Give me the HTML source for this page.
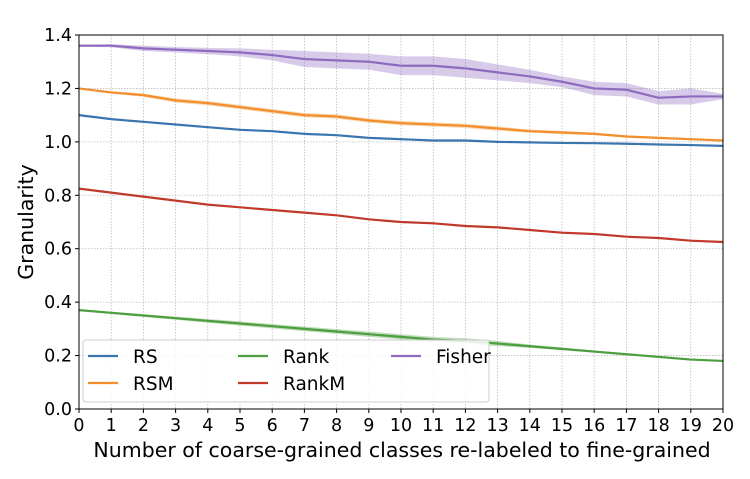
<!DOCTYPE html>
<html><head><meta charset="utf-8"><style>
body{margin:0;background:#fff;}
svg{display:block;font-family:"DejaVu Sans","Liberation Sans",sans-serif;}
</style></head><body>
<svg id="chart" width="750" height="479"></svg>
<script>
const categories=[0,1,2,3,4,5,6,7,8,9,10,11,12,13,14,15,16,17,18,19,20];
const fisher=[1.36,1.36,1.35,1.345,1.34,1.335,1.325,1.31,1.305,1.30,1.285,1.285,1.275,1.26,1.245,1.225,1.20,1.195,1.165,1.17,1.17];
const fisherErr=[0.004,0.006,0.01,0.01,0.012,0.015,0.02,0.03,0.03,0.03,0.035,0.035,0.035,0.03,0.025,0.02,0.025,0.025,0.025,0.03,0.01];
const rsm=[1.20,1.185,1.175,1.155,1.145,1.13,1.115,1.10,1.095,1.08,1.07,1.065,1.06,1.05,1.04,1.035,1.03,1.02,1.015,1.01,1.005];
const rsmErr=[0.003,0.005,0.006,0.008,0.008,0.008,0.008,0.008,0.008,0.008,0.008,0.008,0.008,0.008,0.006,0.006,0.005,0.004,0.004,0.004,0.003];
const rs=[1.10,1.085,1.075,1.065,1.055,1.045,1.04,1.03,1.025,1.015,1.01,1.005,1.005,1.0,0.998,0.996,0.995,0.993,0.99,0.988,0.985];
const rsErr=[0.002,0.003,0.003,0.003,0.003,0.003,0.003,0.003,0.003,0.003,0.003,0.003,0.003,0.003,0.003,0.003,0.003,0.003,0.003,0.003,0.003];
const rankM=[0.825,0.81,0.795,0.78,0.765,0.755,0.745,0.735,0.725,0.71,0.70,0.695,0.685,0.68,0.67,0.66,0.655,0.645,0.64,0.63,0.625];
const rankMErr=[0.003,0.003,0.003,0.003,0.003,0.003,0.003,0.003,0.003,0.003,0.003,0.003,0.003,0.003,0.003,0.003,0.003,0.003,0.003,0.003,0.003];
const rank=[0.37,0.36,0.35,0.34,0.33,0.32,0.31,0.30,0.29,0.28,0.27,0.26,0.255,0.245,0.235,0.225,0.215,0.205,0.195,0.185,0.18];
const rankErr=[0.003,0.004,0.005,0.006,0.007,0.008,0.008,0.009,0.009,0.01,0.01,0.01,0.01,0.01,0.006,0.005,0.004,0.003,0.003,0.003,0.003];
const yTicks=[0.0,0.2,0.4,0.6,0.8,1.0,1.2,1.4];
const seriesNames=["RS","RSM","Rank","RankM","Fisher"];

const NS="http://www.w3.org/2000/svg";
const svg=document.getElementById('chart');
const L=79,R=723,T=35,B=409;
const xS=v=>L+(v-0)/(20-0)*(R-L);
const yS=v=>B-(v/1.4)*(B-T);
function el(tag,attrs,parent){const e=document.createElementNS(NS,tag);for(const k in attrs)e.setAttribute(k,attrs[k]);(parent||svg).appendChild(e);return e;}

categories.forEach(c=>{
  const g=el('line',{x1:xS(c),x2:xS(c),y1:T,y2:B,stroke:'#bbb','stroke-width':0.8,'stroke-dasharray':'1.5,1.5'});
  
  
});
yTicks.forEach(t=>{
  const g=el('line',{x1:L,x2:R,y1:yS(t),y2:yS(t),stroke:'#bbb','stroke-width':0.8,'stroke-dasharray':'1.5,1.5'});
  
  
});

function series(vals,err,color,name){
  let up='',lo='';
  vals.forEach((v,i)=>{up+=(i?'L':'M')+xS(categories[i])+','+yS(v+err[i]);});
  for(let i=vals.length-1;i>=0;i--)lo+='L'+xS(categories[i])+','+yS(vals[i]-err[i]);
  const band=el('path',{d:up+lo+'Z',fill:color,'fill-opacity':0.35,stroke:'none'});
  
  
  const pts=vals.map((v,i)=>xS(categories[i])+','+yS(v)).join(' ');
  const ln=el('polyline',{points:pts,fill:'none',stroke:color,'stroke-width':2.2});
  
  
}
series(rs,rsErr,'#3a75b0','rs');
series(rsm,rsmErr,'#f28e2b','rsm');
series(rank,rankErr,'#4c9e3f','rank');
series(rankM,rankMErr,'#c0392b','rankm');
series(fisher,fisherErr,'#8e6bbf','fisher');

const fr=el('rect',{x:L,y:T,width:R-L,height:B-T,fill:'none',stroke:'#000','stroke-width':1});



categories.forEach(c=>{
  el('line',{x1:xS(c),x2:xS(c),y1:B,y2:B+4,stroke:'#000'});
  const t=el('text',{x:xS(c),y:B+22,'text-anchor':'middle','font-size':17.5,fill:'#000'});
  t.textContent=c;
  
  
});
yTicks.forEach(v=>{
  el('line',{x1:L-4,x2:L,y1:yS(v),y2:yS(v),stroke:'#000'});
  const t=el('text',{x:L-7,y:yS(v)+6,'text-anchor':'end','font-size':17.5,fill:'#000'});
  t.textContent=v.toFixed(1);
  
  
});
const xt=el('text',{x:(L+R)/2+1,y:457,'text-anchor':'middle','font-size':20.5,fill:'#000'});
xt.textContent='Number of coarse-grained classes re-labeled to fine-grained';


const yt=el('text',{x:0,y:0,'text-anchor':'middle','font-size':20.5,fill:'#000',transform:'translate(33,222) rotate(-90)'});
yt.textContent='Granularity';



const lg=el('rect',{x:83,y:340,width:406,height:62,rx:3,fill:'#fff','fill-opacity':0.85,stroke:'#ccc'});


const lcols=['#3a75b0','#f28e2b','#4c9e3f','#c0392b','#8e6bbf'];
const lpos=[[88,356],[88,383],[238,356],[238,383],[391,356]];
seriesNames.forEach((n,i)=>{
  const [x,y]=lpos[i];
  const g=el('g',{});
  
  
  el('line',{x1:x,x2:x+30,y1:y,y2:y,stroke:lcols[i],'stroke-width':2.2},g);
  const t=el('text',{x:x+45,y:y+7,'font-size':18.5,fill:'#000'},g);
  t.textContent=n;
});
</script>
</body></html>
